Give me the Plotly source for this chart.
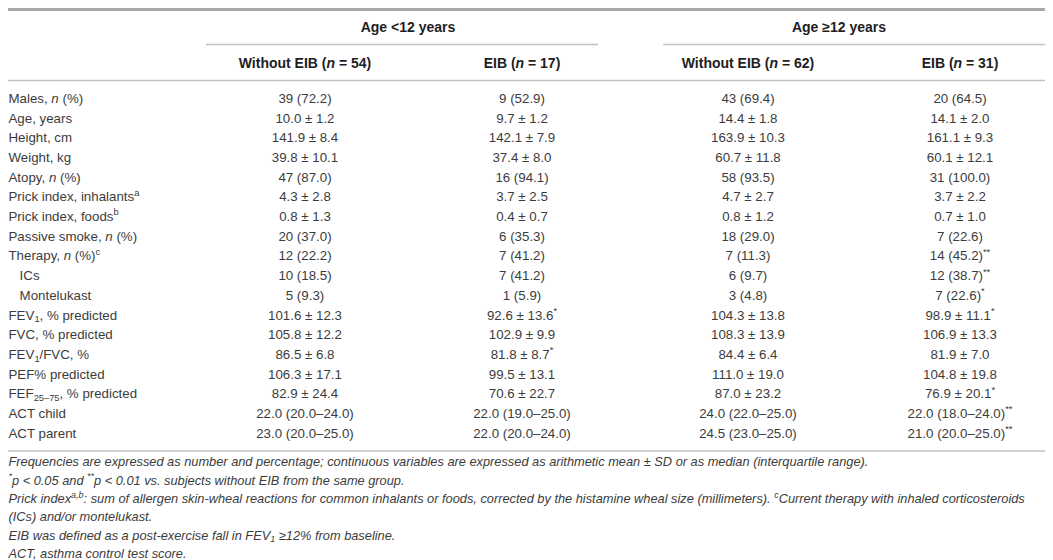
import plotly.graph_objects as go

# table contents
groups = ["<b>Age &lt;12 years</b>", "<b>Age ≥12 years</b>"]
subgroups = ["<b>Without EIB (<i>n</i> = 54)</b>", "<b>EIB (<i>n</i> = 17)</b>",
             "<b>Without EIB (<i>n</i> = 62)</b>", "<b>EIB (<i>n</i> = 31)</b>"]

labels = ["Males, <i>n</i> (%)", "Age, years", "Height, cm", "Weight, kg",
          "Atopy, <i>n</i> (%)", "Prick index, inhalants<sup>a</sup>",
          "Prick index, foods<sup>b</sup>", "Passive smoke, <i>n</i> (%)",
          "Therapy, <i>n</i> (%)<sup>c</sup>", "   ICs", "   Montelukast",
          "FEV<sub>1</sub>, % predicted", "FVC, % predicted", "FEV<sub>1</sub>/FVC, %",
          "PEF% predicted", "FEF<sub>25–75</sub>, % predicted", "ACT child", "ACT parent"]

young_no_eib = ["39 (72.2)", "10.0 ± 1.2", "141.9 ± 8.4", "39.8 ± 10.1", "47 (87.0)",
                "4.3 ± 2.8", "0.8 ± 1.3", "20 (37.0)", "12 (22.2)", "10 (18.5)", "5 (9.3)",
                "101.6 ± 12.3", "105.8 ± 12.2", "86.5 ± 6.8", "106.3 ± 17.1", "82.9 ± 24.4",
                "22.0 (20.0–24.0)", "23.0 (20.0–25.0)"]
young_eib = ["9 (52.9)", "9.7 ± 1.2", "142.1 ± 7.9", "37.4 ± 8.0", "16 (94.1)",
             "3.7 ± 2.5", "0.4 ± 0.7", "6 (35.3)", "7 (41.2)", "7 (41.2)", "1 (5.9)",
             "92.6 ± 13.6<sup>*</sup>", "102.9 ± 9.9", "81.8 ± 8.7<sup>*</sup>", "99.5 ± 13.1",
             "70.6 ± 22.7", "22.0 (19.0–25.0)", "22.0 (20.0–24.0)"]
old_no_eib = ["43 (69.4)", "14.4 ± 1.8", "163.9 ± 10.3", "60.7 ± 11.8", "58 (93.5)",
              "4.7 ± 2.7", "0.8 ± 1.2", "18 (29.0)", "7 (11.3)", "6 (9.7)", "3 (4.8)",
              "104.3 ± 13.8", "108.3 ± 13.9", "84.4 ± 6.4", "111.0 ± 19.0", "87.0 ± 23.2",
              "24.0 (22.0–25.0)", "24.5 (23.0–25.0)"]
old_eib = ["20 (64.5)", "14.1 ± 2.0", "161.1 ± 9.3", "60.1 ± 12.1", "31 (100.0)",
           "3.7 ± 2.2", "0.7 ± 1.0", "7 (22.6)", "14 (45.2)<sup>**</sup>",
           "12 (38.7)<sup>**</sup>", "7 (22.6)<sup>*</sup>", "98.9 ± 11.1<sup>*</sup>",
           "106.9 ± 13.3", "81.9 ± 7.0", "104.8 ± 19.8", "76.9 ± 20.1<sup>*</sup>",
           "22.0 (18.0–24.0)<sup>**</sup>", "21.0 (20.0–25.0)<sup>**</sup>"]

footnotes = [
    "<i>Frequencies are expressed as number and percentage; continuous variables are expressed as arithmetic mean ± SD or as median (interquartile range).</i>",
    "<i><sup>*</sup>p &lt; 0.05 and <sup>**</sup>p &lt; 0.01 vs. subjects without EIB from the same group.</i>",
    "<i>Prick index<sup>a,b</sup>: sum of allergen skin-wheal reactions for common inhalants or foods, corrected by the histamine wheal size (millimeters). <sup>c</sup>Current therapy with inhaled corticosteroids</i>",
    "<i>(ICs) and/or montelukast.</i>",
    "<i>EIB was defined as a post-exercise fall in FEV<sub>1</sub> ≥12% from baseline.</i>",
    "<i>ACT, asthma control test score.</i>",
]

# layout in page pixels
W, H = 1053, 560
col_x = [297, 514, 740, 952]
group_x = [400, 831]
row_y = [91.5 + 19.7 * i for i in range(len(labels))]
note_y = [455 + 18.4 * i for i in range(len(footnotes))]
FONT = "Liberation Sans, Arial, sans-serif"
TXT = "#3c3c3c"
LINE = "#c2c2c2"

fig = go.Figure()

def text_trace(x, y, txt, pos, color=TXT, size=13.3):
    fig.add_trace(go.Scatter(x=x, y=y, text=txt, mode="text", textposition=pos,
                             textfont=dict(family=FONT, size=size, color=color),
                             hoverinfo="skip", showlegend=False))

text_trace(group_x, [20.5, 20.5], groups, "middle center", color="#1e1e1e", size=14)
text_trace(col_x, [56] * 4, subgroups, "middle center", color="#1e1e1e", size=14)
text_trace([0.5] * len(labels), row_y, labels, "middle right")
for cx, col in zip(col_x, [young_no_eib, young_eib, old_no_eib, old_eib]):
    text_trace([cx] * len(col), row_y, col, "middle center")
text_trace([0.5] * len(footnotes), note_y, footnotes, "middle right", size=12.8)

# rules
fig.add_shape(type="line", x0=0, x1=W, y0=1.5, y1=1.5, line=dict(color="#a8a8a8", width=3))
fig.add_shape(type="line", x0=198, x1=590, y0=36.5, y1=36.5, line=dict(color=LINE, width=1.5))
fig.add_shape(type="line", x0=655, x1=W, y0=36.5, y1=36.5, line=dict(color=LINE, width=1.5))
fig.add_shape(type="line", x0=0, x1=W, y0=72.5, y1=72.5, line=dict(color=LINE, width=1.5))
fig.add_shape(type="line", x0=0, x1=W, y0=443, y1=443, line=dict(color=LINE, width=1.5))

fig.update_xaxes(range=[0, W], visible=False, fixedrange=True)
fig.update_yaxes(range=[H, 0], visible=False, fixedrange=True)
fig.update_layout(width=W, height=H, margin=dict(l=0, r=0, t=0, b=0),
                  plot_bgcolor="white", paper_bgcolor="white")

fig.write_html("out.html", config={"displayModeBar": False})
